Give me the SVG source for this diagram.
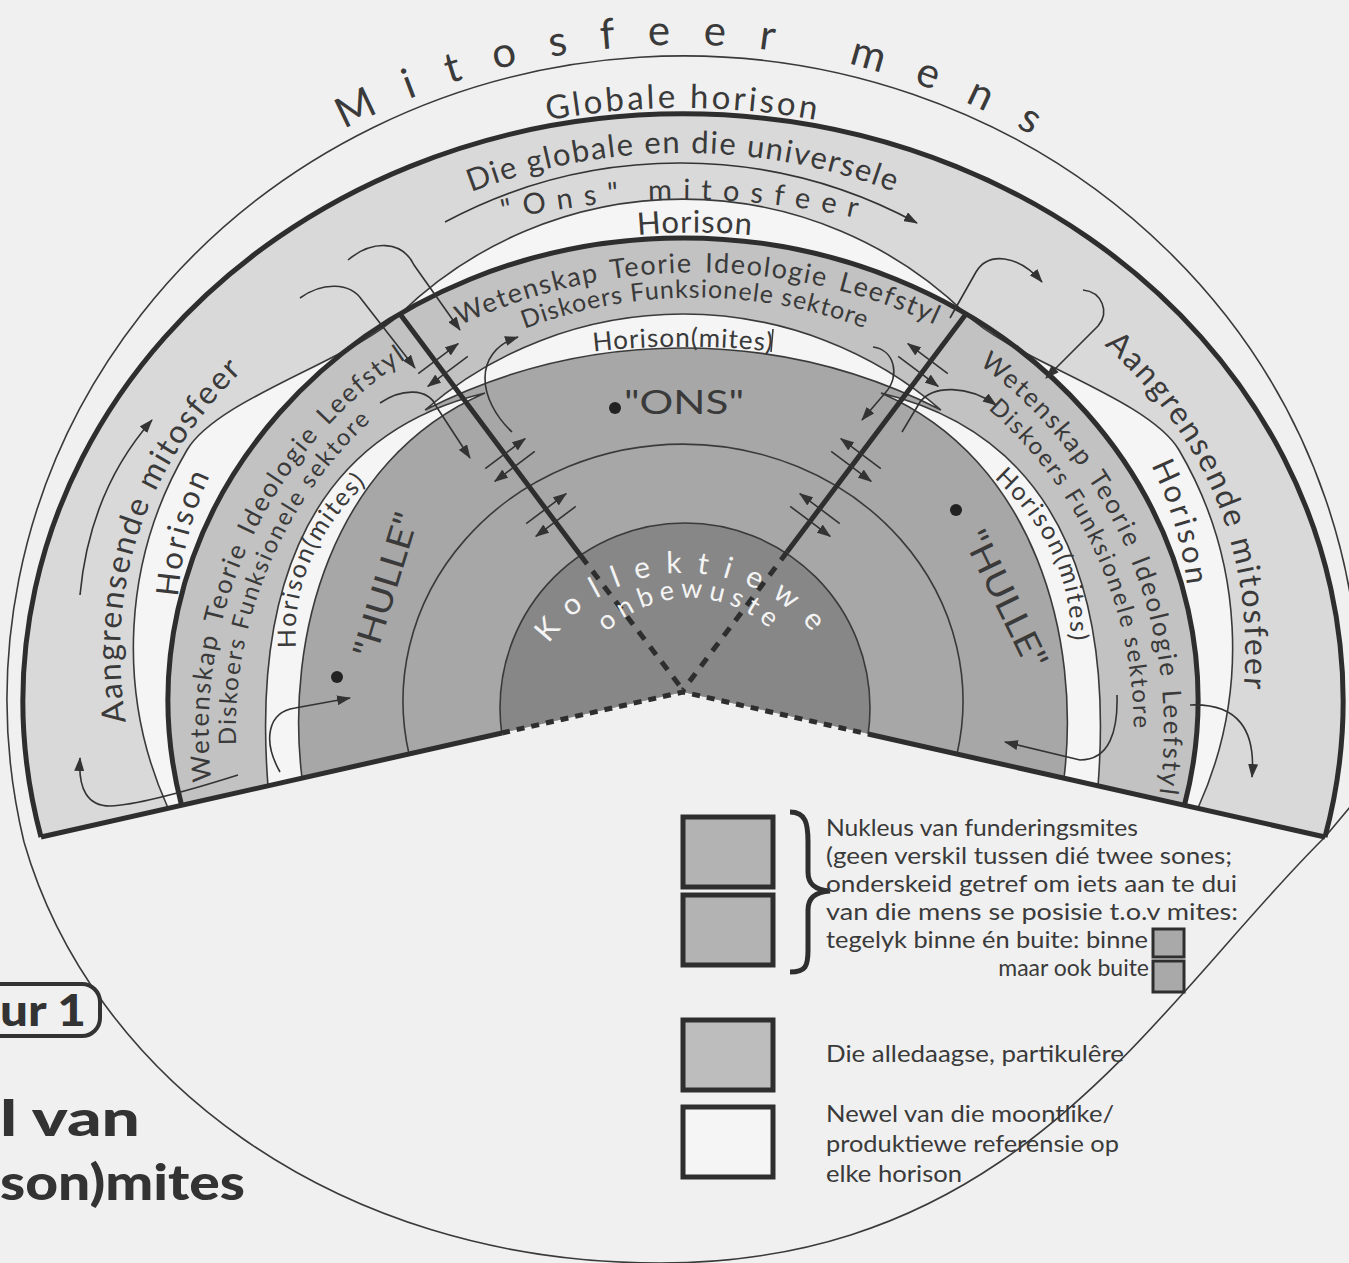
<svg xmlns="http://www.w3.org/2000/svg" width="1349" height="1263" viewBox="0 0 1349 1263">
<style>
.t{font-family:Lato,'Liberation Sans',sans-serif;fill:#3a3a3a}
.wt{font-family:Lato,'Liberation Sans',sans-serif;fill:#f4f4f4}
.thin{fill:none;stroke:#3a3a3a;stroke-width:1.6}
.thick{fill:none;stroke:#2e2e2e;stroke-width:5}
.arr{fill:none;stroke:#333;stroke-width:1.6;marker-end:url(#ah)}
.lg{font-family:Lato,'Liberation Sans',sans-serif;fill:#3a3a3a;font-size:23px}
.ttl{font-family:Lato,'Liberation Sans',sans-serif;font-weight:900;fill:#333}
.bx{stroke:#2e2e2e;stroke-width:5}
.light{fill:#d9d9d9}.med{fill:#c2c2c2}.dark{fill:#a7a7a7}.white{fill:#f5f5f5}
</style>
<defs>
<marker id="ah" viewBox="0 0 14 10" refX="13" refY="5" markerWidth="14" markerHeight="10" markerUnits="userSpaceOnUse" orient="auto"><path d="M0,0 L14,5 L0,10 Z" fill="#333"/></marker>
<clipPath id="above"><path d="M0,0 L1349,0 L1349,842 L683,692 L0,846 Z"/></clipPath>
<path id="pMit" d="M-5,700 A688,655 0 0 1 1371,700"/>
<path id="pGlob" d="M18,700 A665,592 0 0 1 1348,700"/>
<path id="pDie" d="M333,267.5 A592,592 0 0 1 1033,267.5"/>
<path id="pOns" d="M385,257 A815,815 0 0 1 985,257"/>
<path id="pHor" d="M560,247 Q695,218 830,247"/>
<path id="pWet" d="M198,579 A561,561 0 0 1 1198,579"/>
<path id="pDisk" d="M265,563 A481,481 0 0 1 1125,563"/>
<path id="pHm" d="M483,372 A800,800 0 0 1 883,372"/>
<path id="pKol" d="M519,739 A166,166 0 0 1 851,739"/>
<path id="pOnb" d="M572,716 A118,118 0 0 1 808,716"/>
<path id="pAaL" d="M126,722 Q92,505 262,352"/>
<path id="pHorL" d="M178,597 Q183,530 215,465"/>
<path id="pWetL" d="M212,785 A448,448 0 0 1 433,342"/>
<path id="pDiskL" d="M236,745 A421,421 0 0 1 398,398"/>
<path id="pHmL" d="M296,648 Q290,553 372,478"/>
<path id="pAaR" d="M1104,345 Q1266,492 1242,705"/>
<path id="pHorR" d="M1151,465 Q1183,530 1188,597"/>
<path id="pWetR" d="M976,362 A455,455 0 0 1 1157,809"/>
<path id="pDiskR" d="M988,409 A425,425 0 0 1 1132,767"/>
<path id="pHmR" d="M994,478 Q1076,553 1070,648"/>
</defs>
<rect width="1349" height="1263" fill="#f0f0f0"/>
<g id="bands">
<path class="light" d="M41,837 A660,587 0 1 1 1325,837 L683,692 Z"/>
<path class="med" d="M181.5,805 A515,462 0 1 1 1184.5,805 L683,692 Z"/>
<path class="white" d="M400,314 A406,406 0 0 1 966,314 A515,462 0 0 0 400,314 Z"/>
<path class="white" d="M168,808 A390,390 0 0 1 187,450 C218,398 353,360 400,314 A515,462 0 0 0 181.5,805 Z"/>
<path class="white" d="M1198,808 A390,390 0 0 0 1179,450 C1148,398 1013,360 966,314 A515,462 0 0 1 1184.5,805 Z"/>
<path class="dark" d="M425,410 A567.8,567.8 0 0 1 941,410 L683,692 Z"/>
<path class="dark" d="M302,778 C285,640 330,460 485,393 L683,692 Z"/>
<path class="dark" d="M1064,778 C1081,640 1036,460 881,393 L683,692 Z"/>
<path class="white" d="M425,410 A394.7,394.7 0 0 1 941,410 A567.8,567.8 0 0 0 425,410 Z"/>
<path class="white" d="M268,786 C255,620 290,440 485,393 C330,460 285,640 302,778 Z"/>
<path class="white" d="M1098,786 C1111,620 1076,440 881,393 C1036,460 1081,640 1064,778 Z"/>
<circle cx="685" cy="708" r="185" fill="#878787" clip-path="url(#above)"/>
</g>
<g id="lines">
<path class="thin" d="M24,842 A676,643 0 1 1 1356,760"/>
<path class="thin" d="M24,842 C90,1072 330,1263 660,1263 C1020,1263 1155,1005 1325,837 L1360,795"/>
<path class="thick" d="M41,837 A660,587 0 1 1 1325,837"/>
<path class="thin" d="M400,314 A406,406 0 0 1 966,314"/>
<path class="thin" d="M168,808 A390,390 0 0 1 187,450 C218,398 353,360 400,314"/>
<path class="thin" d="M1198,808 A390,390 0 0 0 1179,450 C1148,398 1013,360 966,314"/>
<path class="thick" d="M181.5,805 A515,462 0 1 1 1184.5,805"/>
<path class="thin" d="M425,410 A394.7,394.7 0 0 1 941,410 M425,410 A567.8,567.8 0 0 1 941,410"/>
<path class="thin" d="M268,786 C255,620 290,440 485,393 M302,778 C285,640 330,460 485,393"/>
<path class="thin" d="M1098,786 C1111,620 1076,440 881,393 M1064,778 C1081,640 1036,460 881,393"/>
<path class="thin" d="M773,329 L771,352"/>
<path class="thin" d="M409,754 A280,257 0 1 1 957,754"/>
<circle cx="685" cy="708" r="185" class="thin" clip-path="url(#above)"/>
<path class="thick" d="M581,556 L400,314 M787,552 L966,314"/>
<path class="thick" stroke-dasharray="10 9" d="M581,556 L683,690 M787,552 L683,690"/>
<path class="thick" d="M41,837 L502,733 M868,734 L1325,837"/>
<path class="thick" stroke-dasharray="8 7" d="M502,733 L683,692 L868,734"/>
</g>
<g id="connectors">
<path class="arr" d="M445,222 A497.8,497.8 0 0 1 917,223"/>
<path class="arr" d="M348,260 C372,240 402,240 414,265 L460,330"/>
<path class="arr" d="M300,298 C322,282 350,282 362,300 L415,368"/>
<path class="arr" d="M380,403 C402,388 428,388 436,406 L470,458"/>
<path class="arr" d="M512,432 C478,400 472,352 518,337"/>
<path class="arr" d="M950,318 L976,272 C988,252 1018,254 1042,282"/>
<path class="arr" d="M1083,290 C1102,292 1110,312 1098,326 L1046,378"/>
<path class="arr" d="M902,432 L920,402 C933,385 968,385 996,405"/>
<path class="arr" d="M873,347 C895,350 900,376 886,392 L862,420"/>
<path class="arr" d="M80,595 C86,530 108,470 152,420"/>
<path class="arr" d="M238,775 C200,787 140,805 110,806 C88,806 78,790 80,758"/>
<path class="arr" d="M280,772 C262,740 268,712 295,708 L350,698"/>
<path class="arr" d="M1117,695 C1118,730 1110,760 1080,760 L1005,742"/>
<path class="arr" d="M1190,705 C1238,703 1256,730 1252,777"/>
<path class="arr" d="M418.2,373.6 L458.2,343.6"/>
<path class="arr" d="M467.8,356.4 L427.8,386.4"/>
<path class="arr" d="M485.2,468.6 L525.2,438.6"/>
<path class="arr" d="M534.8,451.4 L494.8,481.4"/>
<path class="arr" d="M526.2,523.6 L566.2,493.6"/>
<path class="arr" d="M575.8,506.4 L535.8,536.4"/>
<path class="arr" d="M947.8,373.6 L907.8,343.6"/>
<path class="arr" d="M898.2,356.4 L938.2,386.4"/>
<path class="arr" d="M880.8,468.6 L840.8,438.6"/>
<path class="arr" d="M831.2,451.4 L871.2,481.4"/>
<path class="arr" d="M839.8,523.6 L799.8,493.6"/>
<path class="arr" d="M790.2,506.4 L830.2,536.4"/>
</g>
<g id="labels">
<text class="t" font-size="42" style="letter-spacing:33px"><textPath href="#pMit" startOffset="702">Mitosfeer mens</textPath></text>
<text class="t" font-size="33" style="letter-spacing:3px" text-anchor="middle"><textPath href="#pGlob" startOffset="50%">Globale horison</textPath></text>
<text class="t" font-size="31" style="letter-spacing:1.5px" text-anchor="middle"><textPath href="#pDie" startOffset="50%">Die globale en die universele</textPath></text>
<text class="t" font-size="29" style="letter-spacing:11px" text-anchor="middle"><textPath href="#pOns" startOffset="50%">"Ons" mitosfeer</textPath></text>
<text class="t" font-size="31" style="letter-spacing:1px" text-anchor="middle"><textPath href="#pHor" startOffset="50%">Horison</textPath></text>
<text class="t" font-size="27" style="letter-spacing:1.5px;word-spacing:4px" text-anchor="middle"><textPath href="#pWet" startOffset="50%">Wetenskap Teorie Ideologie Leefstyl</textPath></text>
<text class="t" font-size="25" style="letter-spacing:1px" text-anchor="middle"><textPath href="#pDisk" startOffset="50%">Diskoers Funksionele sektore</textPath></text>
<text class="t" font-size="26" style="letter-spacing:1px" text-anchor="middle"><textPath href="#pHm" startOffset="50%">Horison(mites)</textPath></text>
<circle cx="615" cy="408" r="6" fill="#222"/>
<text class="t" x="624" y="414" font-size="33" textLength="120" lengthAdjust="spacingAndGlyphs">"ONS"</text>
<text class="wt" font-size="30" style="letter-spacing:15px" text-anchor="middle"><textPath href="#pKol" startOffset="50%">Kollektiewe</textPath></text>
<text class="wt" font-size="27" style="letter-spacing:6px" text-anchor="middle"><textPath href="#pOnb" startOffset="50%">onbewuste</textPath></text>
<text class="t" font-size="32" style="letter-spacing:2px"><textPath href="#pAaL">Aangrensende mitosfeer</textPath></text>
<text class="t" font-size="31" style="letter-spacing:3px"><textPath href="#pHorL">Horison</textPath></text>
<text class="t" font-size="26" style="letter-spacing:2px;word-spacing:3px"><textPath href="#pWetL" startOffset="4">Wetenskap Teorie Ideologie Leefstyl</textPath></text>
<text class="t" font-size="24" style="letter-spacing:2px"><textPath href="#pDiskL">Diskoers Funksionele sektore</textPath></text>
<text class="t" font-size="25" style="letter-spacing:2px"><textPath href="#pHmL">Horison(mites)</textPath></text>
<circle cx="337" cy="677" r="6" fill="#222"/>
<text class="t" font-size="34" textLength="150" lengthAdjust="spacingAndGlyphs" transform="translate(375,660) rotate(-73)">"HULLE"</text>
<text class="t" font-size="32" style="letter-spacing:2px"><textPath href="#pAaR">Aangrensende mitosfeer</textPath></text>
<text class="t" font-size="31" style="letter-spacing:3px"><textPath href="#pHorR">Horison</textPath></text>
<text class="t" font-size="26" style="letter-spacing:2px;word-spacing:3px"><textPath href="#pWetR" startOffset="4">Wetenskap Teorie Ideologie Leefstyl</textPath></text>
<text class="t" font-size="24" style="letter-spacing:2px"><textPath href="#pDiskR">Diskoers Funksionele sektore</textPath></text>
<text class="t" font-size="25" style="letter-spacing:2px"><textPath href="#pHmR">Horison(mites)</textPath></text>
<circle cx="956" cy="510" r="6" fill="#222"/>
<text class="t" font-size="34" textLength="150" lengthAdjust="spacingAndGlyphs" transform="translate(962,537) rotate(64)">"HULLE"</text>
</g>
<g id="legend">
<rect x="683" y="817" width="90" height="70" class="bx" fill="#b3b3b3"/>
<rect x="683" y="895" width="90" height="70" class="bx" fill="#b3b3b3"/>
<path d="M790,812 C806,812 808,824 808,842 L808,872 C808,884 815,890 830,891 C815,892 808,898 808,910 L808,950 C808,966 806,972 790,972" fill="none" stroke="#2e2e2e" stroke-width="5"/>
<text class="lg" x="826" y="836" textLength="312" lengthAdjust="spacingAndGlyphs">Nukleus van funderingsmites</text>
<text class="lg" x="826" y="864" textLength="406" lengthAdjust="spacingAndGlyphs">(geen verskil tussen dié twee sones;</text>
<text class="lg" x="826" y="892" textLength="411" lengthAdjust="spacingAndGlyphs">onderskeid getref om iets aan te dui</text>
<text class="lg" x="826" y="920" textLength="412" lengthAdjust="spacingAndGlyphs">van die mens se posisie t.o.v mites:</text>
<text class="lg" x="826" y="948" textLength="322" lengthAdjust="spacingAndGlyphs">tegelyk binne én buite: binne</text>
<text class="lg" x="1149" y="976" text-anchor="end">maar ook buite</text>
<rect x="1153" y="929" width="31" height="28" fill="#a9a9a9" stroke="#2e2e2e" stroke-width="3"/>
<rect x="1153" y="961" width="31" height="31" fill="#a9a9a9" stroke="#2e2e2e" stroke-width="3"/>
<rect x="683" y="1020" width="90" height="70" class="bx" fill="#bdbdbd"/>
<text class="lg" x="826" y="1062" textLength="298" lengthAdjust="spacingAndGlyphs">Die alledaagse, partikulêre</text>
<rect x="683" y="1107" width="90" height="70" class="bx" fill="#f5f5f5"/>
<text class="lg" x="826" y="1122" textLength="288" lengthAdjust="spacingAndGlyphs">Newel van die moontlike/</text>
<text class="lg" x="826" y="1152" textLength="293" lengthAdjust="spacingAndGlyphs">produktiewe referensie op</text>
<text class="lg" x="826" y="1182" textLength="136" lengthAdjust="spacingAndGlyphs">elke horison</text>
</g>
<g id="title">
<rect x="-40" y="984" width="140" height="52" rx="18" fill="none" stroke="#333" stroke-width="4"/>
<text class="ttl" x="0" y="1026" font-size="44" textLength="86" lengthAdjust="spacingAndGlyphs">ur 1</text>
<text class="ttl" x="0" y="1136" font-size="50" textLength="140" lengthAdjust="spacingAndGlyphs">l van</text>
<text class="ttl" x="0" y="1200" font-size="50" textLength="245" lengthAdjust="spacingAndGlyphs">son)mites</text>
</g>
</svg>
